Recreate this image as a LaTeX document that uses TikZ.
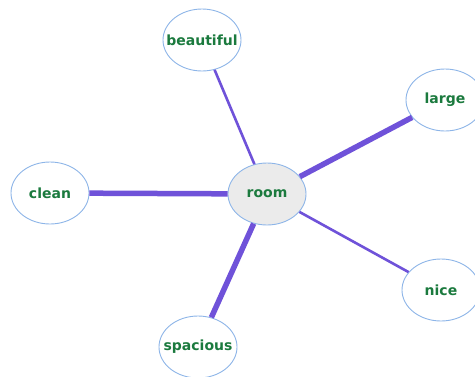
\documentclass[tikz,border=0pt]{standalone}
\usepackage{fontspec}
\setmainfont{DejaVu Sans}
\usetikzlibrary{shapes.geometric}
\definecolor{wordgreen}{HTML}{1B7A3E}
\definecolor{rimblue}{HTML}{8DB5E8}
\definecolor{linkpurple}{HTML}{6F52D9}
\definecolor{hubgray}{HTML}{EBEBEB}
% zero-width box so every ellipse keeps the same size
\newcommand{\wordbox}[1]{\makebox[0pt]{#1}}
\tikzset{
    word/.style={ellipse, draw=rimblue, line width=0.9pt, fill=white,
                 minimum width=78pt, minimum height=62pt, inner sep=0pt,
                 text=wordgreen, font=\bfseries\fontsize{14}{16}\selectfont},
    hub/.style={word, fill=hubgray},
    weak/.style={linkpurple, line width=2.6pt},
    strong/.style={linkpurple, line width=5.5pt}
}
\begin{document}
\begin{tikzpicture}[x=1pt, y=-1pt]
    \useasboundingbox (0,0) rectangle (475,376);
    \node[hub]  (room)      at (267,194) {\wordbox{room}};
    \node[word] (beautiful) at (202,40)  {\wordbox{beautiful}};
    \node[word] (large)     at (445,100) {\wordbox{large}};
    \node[word] (clean)     at (50,193)  {\wordbox{clean}};
    \node[word] (nice)      at (441,290) {\wordbox{nice}};
    \node[word] (spacious)  at (198,347) {\wordbox{spacious}};
    \draw[weak]     (room) -- (beautiful);
    \draw[strong]   (room) -- (large);
    \draw[strong]   (room) -- (clean);
    \draw[weak]     (room) -- (nice);
    \draw[strong]   (room) -- (spacious);
\end{tikzpicture}
\end{document}
